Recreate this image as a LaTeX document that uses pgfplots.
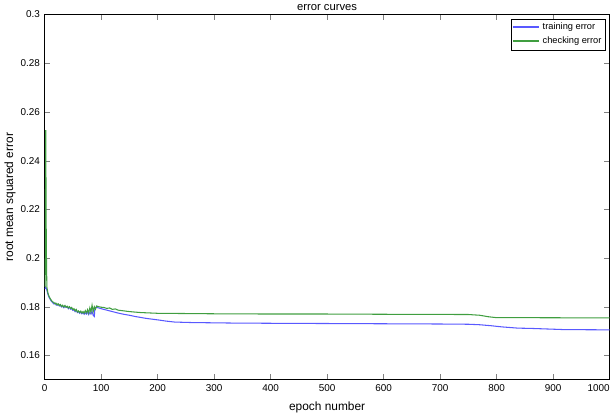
\documentclass[border=0pt]{standalone}
\usepackage{pgfplots}
\pgfplotsset{compat=1.18}
\usepackage{fontspec}
\setmainfont{Liberation Sans}
\definecolor{mblue}{rgb}{0.35,0.35,1}
\definecolor{mgreen}{rgb}{0.25,0.62,0.25}
\begin{document}
\begin{tikzpicture}
\begin{axis}[
  scale only axis,
  width=427pt, height=276pt,
  xmin=0, xmax=1000, ymin=0.15, ymax=0.3,
  xtick={0,100,...,1000},
  ytick={0.16,0.18,...,0.3},
  yticklabels={0.16,0.18,0.2,0.22,0.24,0.26,0.28,0.3},
  xticklabel={\ifnum\ticknum=10 \llap{1000}\hspace{1pt}\else\axisdefaultticklabel\fi},
  scaled ticks=false,
  /pgf/number format/1000 sep={},
  /pgf/number format/assume math mode=true,
  tick label style={font=\fontsize{7.5}{9}\selectfont},
  tick align=inside,
  major tick length=4pt,
  xtick pos=both, ytick pos=both,
  title={error curves},
  title style={font=\fontsize{8.5}{10}\selectfont, yshift=-6.5pt},
  xlabel={epoch number},
  ylabel={root mean squared error},
  label style={font=\fontsize{9}{10}\selectfont},
  xlabel style={yshift=-1pt},
  ylabel style={yshift=-3pt},
  legend style={at={(0.993,0.988)}, anchor=north east,
    font=\fontsize{7}{8}\selectfont, inner sep=1pt,
    row sep=0pt},
  legend cell align=left,
  legend image code/.code={\draw[#1] (0cm,0.4pt) -- (0.7cm,0.4pt);},
]
\addlegendimage{draw=mblue, line width=1.1pt}
\addlegendentry{training error}
\addlegendimage{draw=mgreen, line width=1.1pt}
\addlegendentry{checking error}
\addplot[draw=mblue, line width=0.8pt, forget plot] coordinates {
(1,0.1873)(2,0.1880)(3,0.1875)(4,0.1868)(6,0.1850)(8,0.1838)(10,0.1830)
(12,0.1822)(14,0.1818)(16,0.1812)(18,0.1815)(20,0.1808)(22,0.1806)
(24,0.1810)(26,0.1803)(28,0.1805)(30,0.1799)(32,0.1802)(34,0.1796)
(36,0.1803)(38,0.1797)(40,0.1800)(42,0.1792)(44,0.1798)(46,0.1790)
(48,0.1793)(50,0.1785)(52,0.1788)(54,0.1780)(56,0.1786)(58,0.1776)
(60,0.1780)(62,0.1773)(64,0.1778)(66,0.1771)(68,0.1776)(70,0.1769)
(72,0.1775)(74,0.1770)(76,0.1779)(78,0.1768)(80,0.1777)(82,0.1770)
(84,0.1781)(86,0.1765)(88,0.1760)(89,0.1795)(92,0.1797)(96,0.1795)
(100,0.1792)(110,0.1786)(120,0.1780)(130,0.1774)(140,0.1769)(150,0.1765)
(160,0.1760)(170,0.1756)(180,0.1752)(190,0.1749)(200,0.1746)(215,0.1741)
(230,0.1737)(260,0.1735)(330,0.1733)(400,0.1732)(500,0.1731)(600,0.1730)
(700,0.1729)(750,0.1728)(770,0.1726)(790,0.1722)(810,0.1717)(838,0.1712)
(860,0.1711)(896,0.1708)(920,0.1706)(1000,0.1705)
};
\addplot[draw=mgreen, line width=0.8pt, forget plot] coordinates {
(1,0.1880)(2,0.2525)(3,0.2047)(4,0.1880)(6,0.1855)(8,0.1842)(10,0.1833)
(12,0.1826)(14,0.1820)(16,0.1818)(18,0.1812)(20,0.1815)(22,0.1808)
(24,0.1812)(26,0.1805)(28,0.1809)(30,0.1801)(32,0.1806)(34,0.1799)
(36,0.1805)(38,0.1798)(40,0.1802)(42,0.1795)(44,0.1800)(46,0.1793)
(48,0.1797)(50,0.1788)(52,0.1792)(54,0.1783)(56,0.1789)(58,0.1778)
(60,0.1783)(62,0.1776)(64,0.1782)(66,0.1774)(68,0.1780)(70,0.1773)
(72,0.1784)(74,0.1775)(76,0.1788)(78,0.1774)(80,0.1795)(82,0.1778)
(84,0.1806)(86,0.1780)(88,0.1800)(90,0.1790)(92,0.1803)(96,0.1800)
(100,0.1798)(105,0.1797)(110,0.1793)(115,0.1795)(120,0.1789)(125,0.1791)
(130,0.1786)(140,0.1783)(150,0.1780)(160,0.1778)(170,0.1776)(180,0.1775)
(200,0.1773)(250,0.1772)(300,0.1771)(400,0.1770)(500,0.1770)(600,0.1769)
(750,0.1768)(770,0.1765)(785,0.1759)(800,0.1755)(850,0.1755)(1000,0.1754)
};
\end{axis}
\end{tikzpicture}
\end{document}
